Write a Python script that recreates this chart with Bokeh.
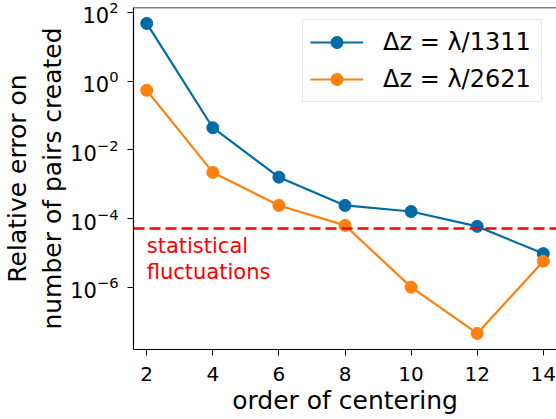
from bokeh.plotting import figure
from bokeh.models import FixedTicker, Legend, LegendItem, Span, Label, ColumnDataSource, LogTickFormatter
from bokeh.embed import file_html
from bokeh.resources import INLINE

orders = [2, 4, 6, 8, 10, 12, 14]
err_1311 = [48.0, 0.044, 1.6e-3, 2.4e-4, 1.6e-4, 5.9e-5, 9.5e-6]
err_2621 = [0.54, 2.2e-3, 2.4e-4, 6.3e-5, 1.0e-6, 4.5e-8, 5.7e-6]
series_labels = ["Δz = λ/1311", "Δz = λ/2621"]
stat_level = 5.1e-5
stat_text = "statistical\nfluctuations"
x_label = "order of centering"
y_label = "Relative error on\nnumber of pairs created"

x_ticks = [2, 4, 6, 8, 10, 12, 14]
y_ticks = [1e2, 1e0, 1e-2, 1e-4, 1e-6]

BLUE = "#006BA4"
ORANGE = "#FF800E"
FONT = "DejaVu Sans"

Y_TOP = 10 ** 2.145
p = figure(width=556, height=419, y_axis_type="log",
           x_range=(1.6, 14.4), y_range=(10 ** -7.815, Y_TOP),
           output_backend="svg", toolbar_location=None,
           min_border_left=133, min_border_right=0, min_border_top=7, min_border_bottom=70)

p.grid.visible = False
p.outline_line_color = None
# top spine (right spine lies beyond the cropped edge in the reference)
p.add_layout(Span(location=Y_TOP, dimension="width", line_color="black", line_width=1.5))

src = ColumnDataSource(dict(x=orders, a=err_1311, b=err_2621))

l1 = p.line("x", "a", source=src, line_color=BLUE, line_width=2.2)
m1 = p.scatter("x", "a", source=src, size=12, fill_color=BLUE, line_color=BLUE)
l2 = p.line("x", "b", source=src, line_color=ORANGE, line_width=2.2)
m2 = p.scatter("x", "b", source=src, size=12, fill_color=ORANGE, line_color=ORANGE)

p.add_layout(Span(location=stat_level, dimension="width", line_color="red",
                  line_width=2.5, line_dash="11 5"))

p.add_layout(Label(x=2, y=3.6e-5, text=stat_text, text_color="red",
                   text_font=FONT, text_font_size="21px", text_baseline="top",
                   text_align="left", text_line_height=1.1))

legend = Legend(items=[LegendItem(label=series_labels[0], renderers=[l1, m1]),
                       LegendItem(label=series_labels[1], renderers=[l2, m2])],
                location=(169, 247))
legend.label_text_font = FONT
legend.label_text_font_size = "24px"
legend.label_text_color = "black"
legend.glyph_width = 53
legend.glyph_height = 30
legend.label_height = 30
legend.label_width = 151
legend.label_standoff = 20
legend.spacing = 7
legend.padding = 7
legend.margin = 0
legend.border_line_color = "#cccccc"
legend.border_line_width = 1
legend.background_fill_alpha = 0.9
p.add_layout(legend)

for ax in (p.xaxis, p.yaxis):
    ax.major_label_text_font = FONT
    ax.major_label_text_font_size = "20px"
    ax.axis_label_text_font = FONT
    ax.axis_label_text_font_size = "25px"
    ax.axis_label_text_font_style = "normal"
    ax.axis_label_text_color = "black"
    ax.major_tick_out = 6
    ax.major_tick_in = 0
    ax.minor_tick_out = 0
    ax.minor_tick_in = 0
    ax.axis_line_color = "black"
    ax.axis_line_width = 1.2
    ax.major_tick_line_color = "black"
    ax.major_label_text_color = "black"

p.xaxis.ticker = FixedTicker(ticks=x_ticks)
p.xaxis.axis_label = x_label
p.xaxis.major_label_standoff = 11
p.xaxis.axis_label_standoff = 2

p.yaxis.ticker = FixedTicker(ticks=y_ticks, minor_ticks=[])
p.yaxis.formatter = LogTickFormatter()
p.yaxis.major_label_text_font_size = "21px"
p.yaxis.axis_label = y_label
p.yaxis.major_label_standoff = 9
p.yaxis.axis_label_standoff = 0

open("out.html", "w").write(file_html(p, INLINE))
